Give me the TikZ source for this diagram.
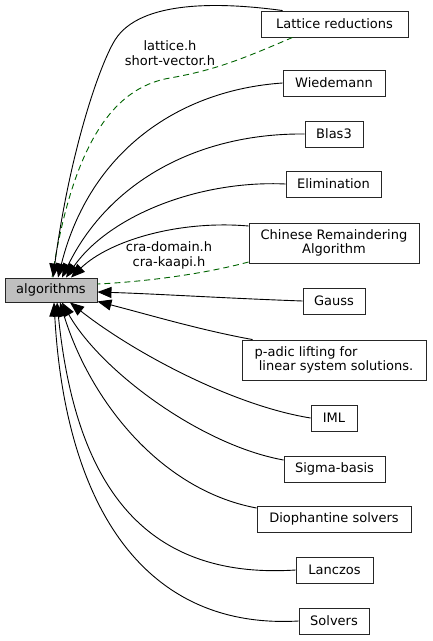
\documentclass[tikz,border=0pt]{standalone}
\usepackage{fontspec}
\setmainfont{DejaVu Sans}
\usetikzlibrary{arrows.meta}
\begin{document}
\begin{tikzpicture}[x=1pt,y=-1pt,
  box/.style={draw=black!85,line width=0.9pt,fill=white,minimum height=26pt,inner xsep=0pt,inner ysep=2pt,align=center,font=\fontsize{13}{14.8}\selectfont},
  edge/.style={line width=0.9pt,-{Triangle[length=14pt,width=11pt]}},
  dep/.style={line width=0.9pt,draw={rgb,255:red,0;green,100;blue,0},dash pattern=on 6pt off 4pt},
  lbl/.style={align=center,font=\fontsize{13}{15}\selectfont,inner sep=0pt}]
\useasboundingbox (0,0) rectangle (432,641);
\node[box,fill={rgb,255:red,191;green,191;blue,191},minimum height=24pt,minimum width=92pt] (alg) at (51,290) {algorithms};
\node[box,minimum width=147pt] (lat) at (334.5,24) {Lattice reductions};
\node[box,minimum width=102pt] (wie) at (334,83) {Wiedemann};
\node[box,minimum width=58pt] (bla) at (334,134) {Blas3};
\node[box,minimum width=95pt] (eli) at (333.5,184) {Elimination};
\node[box,minimum width=170pt,minimum height=40pt] (cra) at (334,243) {Chinese Remaindering\\Algorithm};
\node[box,minimum width=62pt] (gau) at (334,301) {Gauss};
\node[box,minimum width=184pt,minimum height=40pt,align=left] (pad) at (334,360) {p-adic lifting for\\\ linear system solutions.};
\node[box,minimum width=46pt] (iml) at (334,418) {IML};
\node[box,minimum width=101pt] (sig) at (334.5,469) {Sigma-basis};
\node[box,minimum width=154pt] (dio) at (334,519) {Diophantine solvers};
\node[box,minimum width=77pt] (lan) at (334.5,570) {Lanczos};
\node[box,minimum width=70pt] (sol) at (334,621) {Solvers};
\node[lbl] (l1) at (170,53.5) {lattice.h\\short-vector.h};
\node[lbl] (l2) at (169,255.5) {cra-domain.h\\cra-kaapi.h};
% dashed include edges (drawn first, under the arrowheads)
\draw[dep] ([xshift=-42pt]lat.south) .. controls (240,60) and (215,70) .. (170,78) .. controls (110,88) and (72,150) .. ([xshift=1pt]alg.north);
\draw[dep] ([yshift=-19pt]cra.west) .. controls (200,275) and (140,282) .. ([yshift=6pt]alg.east);
% edges to the top of algorithms
\draw[edge] ([xshift=22pt]lat.north west) .. controls (220,2) and (140,0) .. (115,40) .. controls (100,64) and (70,150) .. ([xshift=2pt]alg.north);
\draw[edge] (wie.west) .. controls (180,90) and (90,150) .. ([xshift=7pt]alg.north);
\draw[edge] (bla.west) .. controls (200,133) and (110,180) .. ([xshift=11pt]alg.north);
\draw[edge] (eli.west) .. controls (200,180) and (110,215) .. ([xshift=15pt]alg.north);
\draw[edge] ([yshift=17pt]cra.west) .. controls (180,220) and (110,240) .. ([xshift=20pt]alg.north);
% edges to the right side
\draw[edge] (gau.west) .. controls (220,298) and (160,294) .. ([yshift=-2pt]alg.east);
\draw[edge] ([xshift=11pt]pad.north west) .. controls (200,330) and (150,315) .. ([yshift=1pt]alg.south east);
% edges to the bottom
\draw[edge] (iml.west) .. controls (230,405) and (130,350) .. ([xshift=19pt]alg.south);
\draw[edge] ([yshift=9pt]sig.west) .. controls (200,445) and (100,370) .. ([xshift=11pt]alg.south);
\draw[edge] ([yshift=11pt]dio.west) .. controls (160,490) and (90,400) .. ([xshift=9pt]alg.south);
\draw[edge] (lan.west) .. controls (140,580) and (75,480) .. ([xshift=6pt]alg.south);
\draw[edge] (sol.west) .. controls (140,630) and (65,500) .. ([xshift=3pt]alg.south);
\end{tikzpicture}
\end{document}
